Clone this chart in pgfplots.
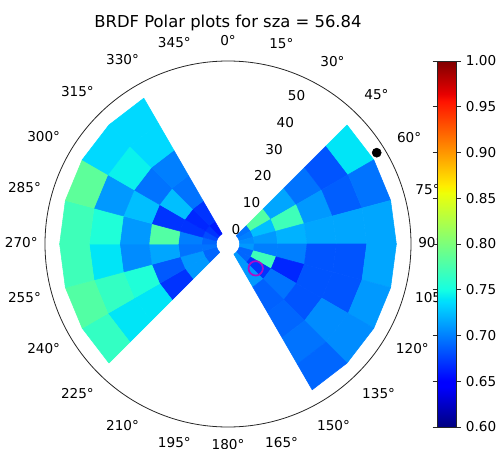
\documentclass[border=0pt]{standalone}
\usepackage{fontspec}
\setmainfont{DejaVu Sans}
\usepackage{pgfplots}
\usepgfplotslibrary{polar}
\pgfplotsset{compat=1.18}
\pgfplotsset{
  colormap={mpljet}{rgb(0cm)=(0,0,0.5) rgb(11cm)=(0,0,1) rgb(12.5cm)=(0,0,1) rgb(34cm)=(0,0.86,1) rgb(35cm)=(0,0.9,0.968) rgb(37.5cm)=(0.081,1,0.887) rgb(64cm)=(0.935,1,0.032) rgb(65cm)=(0.968,0.963,0) rgb(66cm)=(1,0.926,0) rgb(89cm)=(1,0.074,0) rgb(91cm)=(0.909,0,0) rgb(100cm)=(0.5,0,0)}
}
\definecolor{ringpurple}{rgb}{0.68,0.05,0.78}
\newcommand{\tickfont}{\fontsize{10.2}{12}\selectfont}
\begin{document}
\begin{tikzpicture}
\begin{polaraxis}[
  at={(171pt,-183pt)}, anchor=center,
  scale only axis, width=274.5pt, height=274.5pt,
  xmin=0, xmax=360, ymin=0, ymax=62.5,
  xtick={0,15,...,345},
  xticklabels={90°,75°,60°,45°,30°,15°,0°,345°,330°,315°,300°,285°,270°,255°,240°,225°,210°,195°,180°,165°,150°,135°,120°,105°},
  xticklabel style={font=\tickfont, inner sep=0pt, outer xsep=5.5pt, outer ysep=9pt, text height=0.76em, text depth=0.24em},
  grid=none, xmajorgrids=false, ymajorgrids=false, xminorgrids=false, yminorgrids=false,
  major tick length=0pt, minor tick length=0pt,
  tick style={draw=none},
  ytick=\empty,
  axis line style={black!85, line width=0.6pt},
  y axis line style={draw=none},
  colormap name=mpljet,
  point meta min=0.6, point meta max=1,
  colorbar,
  colorbar style={
    at={(parent axis.north east)}, anchor=north west, xshift=11.25pt,
    scale only axis, width=14.25pt, height=274.5pt,
    ytick={0.6,0.65,0.7,0.75,0.8,0.85,0.9,0.95,1},
    yticklabel style={font=\tickfont, /pgf/number format/fixed, /pgf/number format/fixed zerofill, /pgf/number format/precision=2, /pgf/number format/assume math mode=true},
    tick align=outside, major tick length=3.6pt,
    axis line style={black!85, line width=0.6pt},
    y axis line style={draw=black!85},
    tick style={draw=black!85, line width=0.6pt},
    ytick style={draw=black!85, line width=0.6pt},
  },
]
% right wedge: t = azimuth (deg, clockwise from north), r = zenith, v = BRDF
\addplot[patch, patch type=rectangle, shader=flat, point meta=explicit]
 table[x expr=90-\thisrow{t}, y=r, meta=v, row sep=\\] {
t r v\\
45 4 0.695\\ 60 4 0.695\\ 60 9 0.695\\ 45 9 0.695\\
60 4 0.700\\ 75 4 0.700\\ 75 9 0.700\\ 60 9 0.700\\
75 4 0.705\\ 90 4 0.705\\ 90 9 0.705\\ 75 9 0.705\\
90 4 0.710\\ 105 4 0.710\\ 105 9 0.710\\ 90 9 0.710\\
105 4 0.690\\ 120 4 0.690\\ 120 9 0.690\\ 105 9 0.690\\
120 4 0.690\\ 135 4 0.690\\ 135 9 0.690\\ 120 9 0.690\\
135 4 0.710\\ 150 4 0.710\\ 150 9 0.710\\ 135 9 0.710\\
45 9 0.780\\ 60 9 0.780\\ 60 17 0.780\\ 45 17 0.780\\
60 9 0.725\\ 75 9 0.725\\ 75 17 0.725\\ 60 17 0.725\\
75 9 0.710\\ 90 9 0.710\\ 90 17 0.710\\ 75 17 0.710\\
90 9 0.700\\ 105 9 0.700\\ 105 17 0.700\\ 90 17 0.700\\
105 9 0.770\\ 120 9 0.770\\ 120 17 0.770\\ 105 17 0.770\\
120 9 0.670\\ 135 9 0.670\\ 135 17 0.670\\ 120 17 0.670\\
135 9 0.710\\ 150 9 0.710\\ 150 17 0.710\\ 135 17 0.710\\
45 17 0.715\\ 60 17 0.715\\ 60 27 0.715\\ 45 27 0.715\\
60 17 0.770\\ 75 17 0.770\\ 75 27 0.770\\ 60 27 0.770\\
75 17 0.720\\ 90 17 0.720\\ 90 27 0.720\\ 75 27 0.720\\
90 17 0.700\\ 105 17 0.700\\ 105 27 0.700\\ 90 27 0.700\\
105 17 0.665\\ 120 17 0.665\\ 120 27 0.665\\ 105 27 0.665\\
120 17 0.695\\ 135 17 0.695\\ 135 27 0.695\\ 120 27 0.695\\
135 17 0.688\\ 150 17 0.688\\ 150 27 0.688\\ 135 27 0.688\\
45 27 0.695\\ 60 27 0.695\\ 60 37 0.695\\ 45 37 0.695\\
60 27 0.710\\ 75 27 0.710\\ 75 37 0.710\\ 60 37 0.710\\
75 27 0.715\\ 90 27 0.715\\ 90 37 0.715\\ 75 37 0.715\\
90 27 0.683\\ 105 27 0.683\\ 105 37 0.683\\ 90 37 0.683\\
105 27 0.683\\ 120 27 0.683\\ 120 37 0.683\\ 105 37 0.683\\
120 27 0.683\\ 135 27 0.683\\ 135 37 0.683\\ 120 37 0.683\\
135 27 0.690\\ 150 27 0.690\\ 150 37 0.690\\ 135 37 0.690\\
45 37 0.683\\ 60 37 0.683\\ 60 47.4 0.683\\ 45 47.4 0.683\\
60 37 0.687\\ 75 37 0.687\\ 75 47.4 0.687\\ 60 47.4 0.687\\
75 37 0.715\\ 90 37 0.715\\ 90 47.4 0.715\\ 75 47.4 0.715\\
90 37 0.683\\ 105 37 0.683\\ 105 47.4 0.683\\ 90 47.4 0.683\\
105 37 0.683\\ 120 37 0.683\\ 120 47.4 0.683\\ 105 47.4 0.683\\
120 37 0.705\\ 135 37 0.705\\ 135 47.4 0.705\\ 120 47.4 0.705\\
135 37 0.695\\ 150 37 0.695\\ 150 47.4 0.695\\ 135 47.4 0.695\\
45 47.4 0.740\\ 60 47.4 0.740\\ 60 57.5 0.740\\ 45 57.5 0.740\\
60 47.4 0.695\\ 75 47.4 0.695\\ 75 57.5 0.695\\ 60 57.5 0.695\\
75 47.4 0.715\\ 90 47.4 0.715\\ 90 57.5 0.715\\ 75 57.5 0.715\\
90 47.4 0.715\\ 105 47.4 0.715\\ 105 57.5 0.715\\ 90 57.5 0.715\\
105 47.4 0.710\\ 120 47.4 0.710\\ 120 57.5 0.710\\ 105 57.5 0.710\\
120 47.4 0.705\\ 135 47.4 0.705\\ 135 57.5 0.705\\ 120 57.5 0.705\\
135 47.4 0.690\\ 150 47.4 0.690\\ 150 57.5 0.690\\ 135 57.5 0.690\\
};
% left wedge
\addplot[patch, patch type=rectangle, shader=flat, point meta=explicit]
 table[x expr=90-\thisrow{t}, y=r, meta=v, row sep=\\] {
t r v\\
225 4 0.690\\ 240 4 0.690\\ 240 9 0.690\\ 225 9 0.690\\
240 4 0.690\\ 255 4 0.690\\ 255 9 0.690\\ 240 9 0.690\\
255 4 0.695\\ 270 4 0.695\\ 270 9 0.695\\ 255 9 0.695\\
270 4 0.690\\ 285 4 0.690\\ 285 9 0.690\\ 270 9 0.690\\
285 4 0.680\\ 300 4 0.680\\ 300 9 0.680\\ 285 9 0.680\\
300 4 0.670\\ 315 4 0.670\\ 315 9 0.670\\ 300 9 0.670\\
315 4 0.660\\ 330 4 0.660\\ 330 9 0.660\\ 315 9 0.660\\
225 9 0.710\\ 240 9 0.710\\ 240 17 0.710\\ 225 17 0.710\\
240 9 0.710\\ 255 9 0.710\\ 255 17 0.710\\ 240 17 0.710\\
255 9 0.695\\ 270 9 0.695\\ 270 17 0.695\\ 255 17 0.695\\
270 9 0.700\\ 285 9 0.700\\ 285 17 0.700\\ 270 17 0.700\\
285 9 0.670\\ 300 9 0.670\\ 300 17 0.670\\ 285 17 0.670\\
300 9 0.665\\ 315 9 0.665\\ 315 17 0.665\\ 300 17 0.665\\
315 9 0.670\\ 330 9 0.670\\ 330 17 0.670\\ 315 17 0.670\\
225 17 0.670\\ 240 17 0.670\\ 240 27 0.670\\ 225 27 0.670\\
240 17 0.685\\ 255 17 0.685\\ 255 27 0.685\\ 240 27 0.685\\
255 17 0.715\\ 270 17 0.715\\ 270 27 0.715\\ 255 27 0.715\\
270 17 0.780\\ 285 17 0.780\\ 285 27 0.780\\ 270 27 0.780\\
285 17 0.670\\ 300 17 0.670\\ 300 27 0.670\\ 285 27 0.670\\
300 17 0.725\\ 315 17 0.725\\ 315 27 0.725\\ 300 27 0.725\\
315 17 0.695\\ 330 17 0.695\\ 330 27 0.695\\ 315 27 0.695\\
225 27 0.740\\ 240 27 0.740\\ 240 37 0.740\\ 225 37 0.740\\
240 27 0.755\\ 255 27 0.755\\ 255 37 0.755\\ 240 37 0.755\\
255 27 0.705\\ 270 27 0.705\\ 270 37 0.705\\ 255 37 0.705\\
270 27 0.710\\ 285 27 0.710\\ 285 37 0.710\\ 270 37 0.710\\
285 27 0.725\\ 300 27 0.725\\ 300 37 0.725\\ 285 37 0.725\\
300 27 0.695\\ 315 27 0.695\\ 315 37 0.695\\ 300 37 0.695\\
315 27 0.700\\ 330 27 0.700\\ 330 37 0.700\\ 315 37 0.700\\
225 37 0.740\\ 240 37 0.740\\ 240 47.4 0.740\\ 225 47.4 0.740\\
240 37 0.765\\ 255 37 0.765\\ 255 47.4 0.765\\ 240 47.4 0.765\\
255 37 0.740\\ 270 37 0.740\\ 270 47.4 0.740\\ 255 47.4 0.740\\
270 37 0.755\\ 285 37 0.755\\ 285 47.4 0.755\\ 270 47.4 0.755\\
285 37 0.710\\ 300 37 0.710\\ 300 47.4 0.710\\ 285 47.4 0.710\\
300 37 0.745\\ 315 37 0.745\\ 315 47.4 0.745\\ 300 47.4 0.745\\
315 37 0.735\\ 330 37 0.735\\ 330 47.4 0.735\\ 315 47.4 0.735\\
225 47.4 0.765\\ 240 47.4 0.765\\ 240 57.5 0.765\\ 225 57.5 0.765\\
240 47.4 0.780\\ 255 47.4 0.780\\ 255 57.5 0.780\\ 240 57.5 0.780\\
255 47.4 0.770\\ 270 47.4 0.770\\ 270 57.5 0.770\\ 255 57.5 0.770\\
270 47.4 0.770\\ 285 47.4 0.770\\ 285 57.5 0.770\\ 270 57.5 0.770\\
285 47.4 0.785\\ 300 47.4 0.785\\ 300 57.5 0.785\\ 285 57.5 0.785\\
300 47.4 0.735\\ 315 47.4 0.735\\ 315 57.5 0.735\\ 300 57.5 0.735\\
315 47.4 0.735\\ 330 47.4 0.735\\ 330 57.5 0.735\\ 315 57.5 0.735\\
};
\addplot[only marks, mark=*, mark size=3.4pt, black]
 table[x expr=90-\thisrow{t}, y=r, row sep=\\] {t r\\ 58.45 59.6\\};
\addplot[only marks, mark=o, mark size=5.4pt, line width=1.3pt, draw=ringpurple]
 table[x expr=90-\thisrow{t}, y=r, row sep=\\] {t r\\ 131.3 12.6\\};
\node[anchor=west, inner sep=0pt, font=\tickfont] at (axis cs:76.9,4.98) {0};
\node[anchor=west, inner sep=0pt, font=\tickfont] at (axis cs:70.44,14.88) {10};
\node[anchor=west, inner sep=0pt, font=\tickfont] at (axis cs:69.15,24.84) {20};
\node[anchor=west, inner sep=0pt, font=\tickfont] at (axis cs:68.6,34.79) {30};
\node[anchor=west, inner sep=0pt, font=\tickfont] at (axis cs:68.3,44.74) {40};
\node[anchor=west, inner sep=0pt, font=\tickfont] at (axis cs:68.1,54.7) {50};
\end{polaraxis}
\begin{scope}[x=0.75pt,y=-0.75pt]
\node[anchor=base, inner sep=0pt, font=\fontsize{12.3}{14}\selectfont] at (228,28) {BRDF Polar plots for sza = 56.84};
\pgfresetboundingbox
\path (0,0) rectangle (497,449);
\end{scope}
\end{tikzpicture}
\end{document}
